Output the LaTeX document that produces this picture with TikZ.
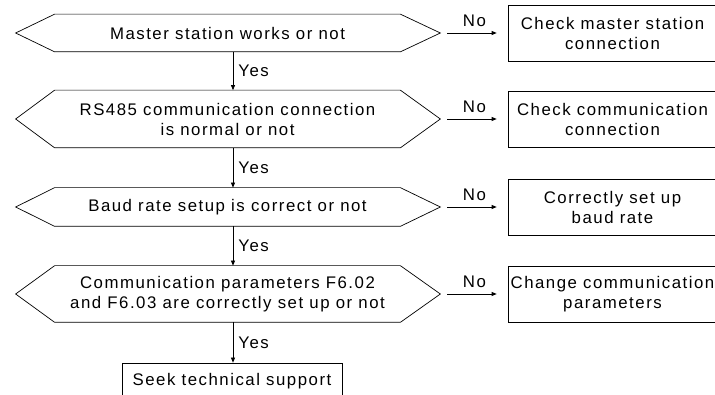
\documentclass[tikz,border=0pt]{standalone}
\usepackage{fontspec}
\setmainfont{Liberation Sans}[LetterSpace=9]
\usetikzlibrary{arrows.meta}

\tikzset{
  decision/.style={inner sep=0pt,minimum width=345pt,align=center},
  result/.style={draw,inner sep=0pt,minimum width=209pt,minimum height=56pt,align=center},
  flow/.style={-{Triangle[length=5pt,width=4pt]}},
}

\begin{document}
\begin{tikzpicture}[x=1pt,y=-1pt,line width=0.7pt,font=\fontsize{16.8}{20}\selectfont]
\clip (0,0) rectangle (715,395);
\coordinate (spine) at (233,0);
\node[decision,minimum height=37pt] (q1) at (227.5,33) {Master station works or not};
\node[decision,minimum height=57pt] (q2) at (227.5,119) {RS485 communication connection\\is normal or not};
\node[decision,minimum height=38pt] (q3) at (227.5,207) {Baud rate setup is correct or not};
\node[decision,minimum height=56pt] (q4) at (227.5,294) {Communication parameters F6.02\\and F6.03 are correctly set up or not};
\foreach \q in {q1,q2,q3,q4}
  \draw (\q.north west) -- ([xshift=-39pt]\q.west) -- (\q.south west) -- (\q.south east) -- ([xshift=40pt]\q.east) -- (\q.north east) -- cycle;
\node[result] (b1) at (612.5,33) {Check master station\\connection};
\node[result] (b2) at (612.5,119) {Check communication\\connection};
\node[result] (b3) at (612.5,207) {Correctly set up\\baud rate};
\node[result] (b4) at (612.5,294) {Change communication\\parameters};
\node[result,minimum width=220pt,minimum height=36pt] (help) at (232,381) {Seek technical support};
\foreach \i in {1,...,4}
  \draw[flow,shorten <=47pt,shorten >=11pt] (q\i.east) -- (b\i.west) node[pos=0.69,above=5pt,inner sep=1pt] {No};
\foreach \a/\b in {q1/q2,q2/q3,q3/q4,q4/help}
  \draw[flow] (\a.south -| spine) -- (\b.north -| spine) node[midway,right=4pt,inner sep=1pt] {Yes};
\end{tikzpicture}
\end{document}
